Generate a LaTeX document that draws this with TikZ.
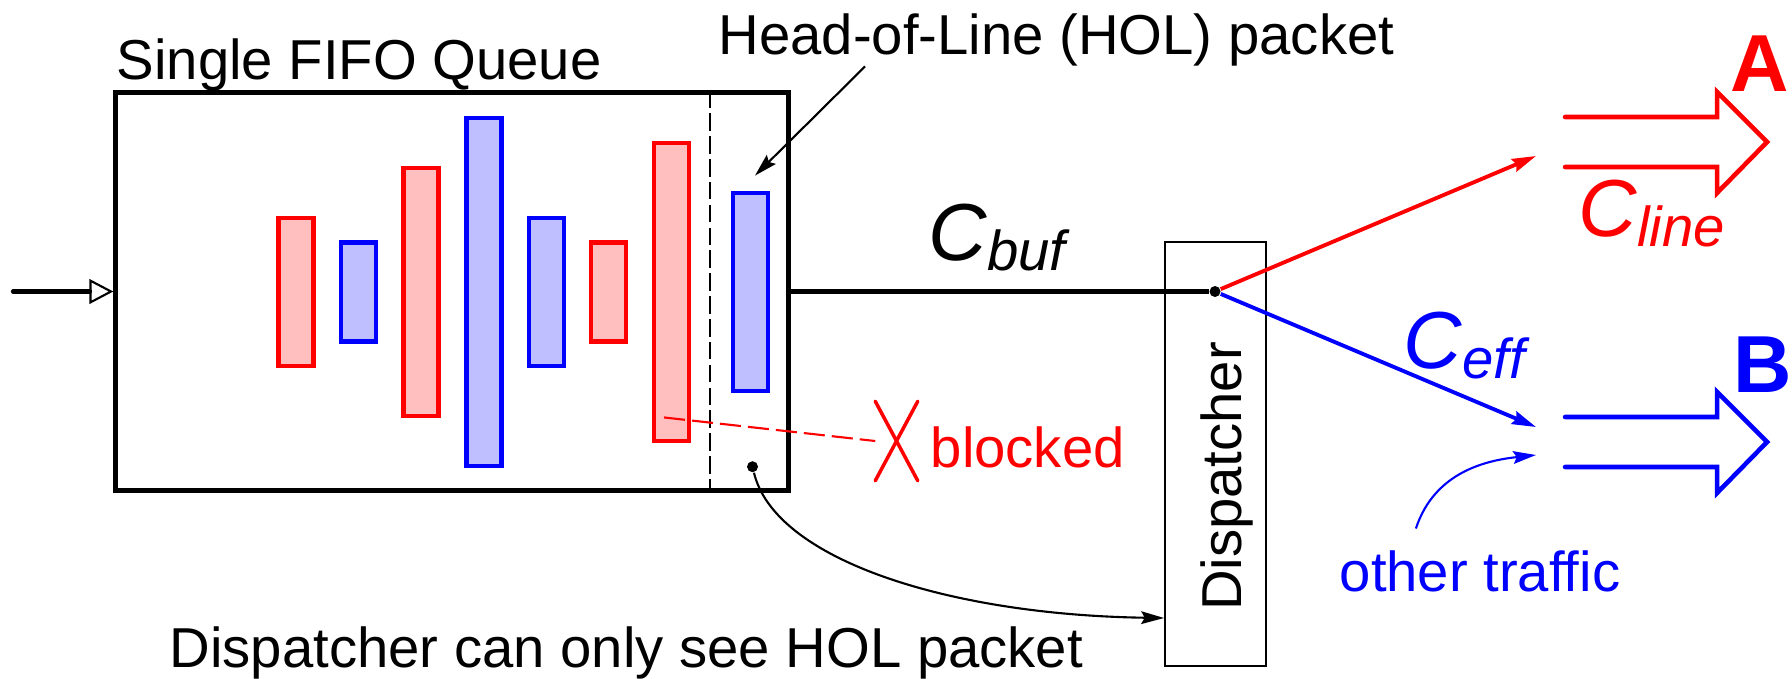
\documentclass[tikz,border=0pt]{standalone}
\usepackage{fontspec}
\setmainfont{Liberation Sans}
\usetikzlibrary{arrows.meta,shapes.misc}

\newcommand{\ratelbl}[1]{{\fontsize{23}{23}\selectfont\itshape C}\raisebox{-3pt}{\fontsize{16}{16}\selectfont\itshape #1}}

\begin{document}
\begin{tikzpicture}[x=0.01cm, y=-0.01cm,
		every node/.style={inner sep=0pt},
		lbl/.style={font=\fontsize{16}{19}\selectfont},
		big/.style={font=\fontsize{23}{23}\selectfont\bfseries},
		redpkt/.style={draw=red, fill=red!25, line width=1.35pt, minimum width=0.35cm},
		bluepkt/.style={draw=blue, fill=blue!25, line width=1.35pt, minimum width=0.35cm},
		dot/.style={circle, fill, minimum size=0.11cm},
		ptr/.style={line width=0.6pt, -{Stealth[length=6.5pt, width=3.6pt, inset=1pt]}},
		flow/.style={line width=1.1pt, -{Stealth[length=6.8pt, width=3.8pt, inset=0.8pt]}},
		fat/.style={line width=1.3pt, line cap=round}]

		\useasboundingbox (0,0) rectangle (1792,678);

		% the queue
		\node[draw, line width=1.4pt, minimum width=6.72cm, minimum height=3.97cm] (q) at (452,291.5) {};
		\node[lbl, anchor=base west] (qlbl) at (116,79) {Single FIFO Queue};
		\draw[line width=0.6pt, dash pattern=on 5pt off 1.5pt] ([xshift=2.58cm]q.north) -- ([xshift=2.58cm]q.south);

		\node[redpkt, minimum height=1.48cm] (p1) at (296,292) {};
		\node[bluepkt, minimum height=0.99cm] (p2) at (358.5,292) {};
		\node[redpkt, minimum height=2.48cm] (p3) at (421,292) {};
		\node[bluepkt, minimum height=3.48cm] (p4) at (484,292) {};
		\node[bluepkt, minimum height=1.48cm] (p5) at (546.5,292) {};
		\node[redpkt, minimum height=0.99cm] (p6) at (608.5,292) {};
		\node[redpkt, minimum height=2.98cm] (p7) at (671.5,292) {};
		\node[bluepkt, minimum height=1.98cm] (p8) at (750.5,292) {};

		\coordinate (src) at (13,291.5);
		\draw[line width=1.2pt, line cap=round, -{Triangle[open, length=6.8pt, width=7pt, line width=0.6pt]}] (src) -- (q.west);

		% head of line
		\node[lbl, anchor=base west] (hol) at (718,54) {Head-of-Line (HOL) packet};
		\draw[ptr] ([xshift=1.47cm]hol.south west) -- ([shift={(0.045cm,0.15cm)}]p8.north);

		% blocked
		\node[draw=red, cross out, line width=1pt, line cap=round, minimum width=0.39cm, minimum height=0.76cm] (x) at (896.5,441) {};
		\draw[red, line width=0.6pt, dash pattern=on 6pt off 2pt] ([shift={(-0.075cm,0.26cm)}]p7.south) -- (x.west);
		\node[lbl, red, anchor=base west] (blk) at (930,467) {blocked};

		% dispatcher
		\node[draw, line width=0.5pt, minimum width=1.01cm, minimum height=4.24cm] (disp) at (1215.5,454) {};
		\node[lbl, rotate=90, anchor=base] (displbl) at (1241.5,476.5) {Dispatcher};
		\node[dot] (split) at (1215,291.5) {};
		\draw[line width=1.2pt] (q.east) -- (split);
		\node[anchor=base west] (cbuf) at (928,260) {\ratelbl{buf}};

		\node[dot] (seen) at (752.5,466.7) {};
		\draw[ptr] (seen) .. controls (775,560) and (950,615) .. ([yshift=0.49cm]disp.south west);
		\node[lbl, anchor=base west] (note) at (169,667) {Dispatcher can only see HOL packet};

		% outputs
		\coordinate (ain) at (1536,156);
		\coordinate (bin) at (1536,427);
		\coordinate (bother) at (1536,455);
		\draw[flow, red] (split) -- (ain);
		\draw[flow, blue] (split) -- (bin);
		\node[red, anchor=base west] (cline) at (1578,236) {\ratelbl{line}};
		\node[blue, anchor=base west] (ceff) at (1403,368) {\ratelbl{eff}};

		\draw[fat, red] (1565,117) -- (1717,117) -- (1717,92) -- (1767,142) -- (1717,193) -- (1717,167) -- (1565,167);
		\draw[fat, blue] (1565,417) -- (1717,417) -- (1717,392) -- (1767,442) -- (1717,493) -- (1717,467) -- (1565,467);
		\node[big, red, anchor=base west] (a) at (1730,91) {A};
		\node[big, blue, anchor=base west] (b) at (1733,392) {B};

		\node[lbl, blue, anchor=base west] (traffic) at (1339,591) {other traffic};
		\draw[ptr, blue] ([shift={(-0.64cm,0.21cm)}]traffic.north) .. controls (1435,470) and (1490,460) .. (bother);
	\end{tikzpicture}
\end{document}
